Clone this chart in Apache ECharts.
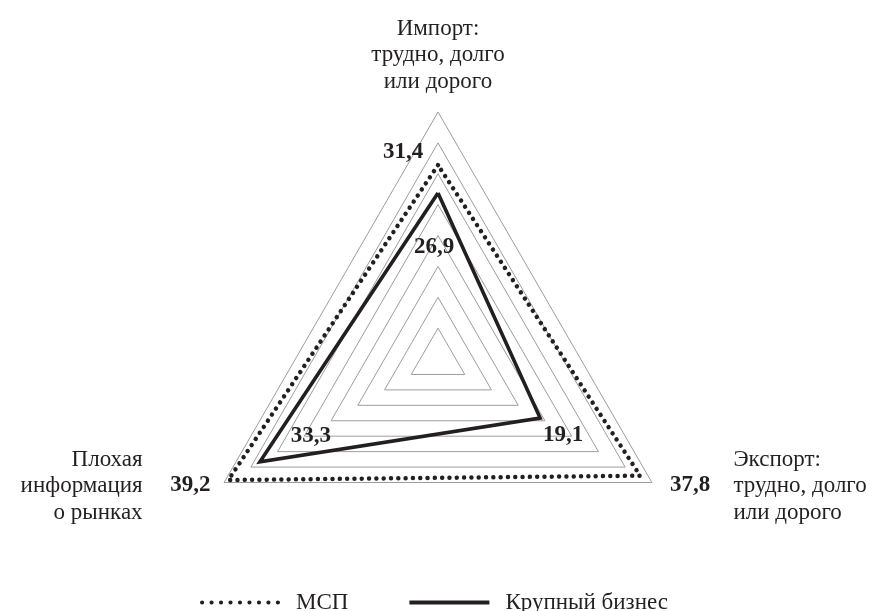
<!DOCTYPE html>
<html><head><meta charset="utf-8">
<script src="https://cdn.jsdelivr.net/npm/echarts@6/dist/echarts.min.js"></script>
<style>html,body{margin:0;padding:0;background:#fff}#c{width:874px;height:611px}</style>
</head><body><div id="c"></div>
<script>
// ---- data ----
const indicatorNames = ['Импорт:\nтрудно, долго\nили дорого', 'Плохая\nинформация\nо рынках', 'Экспорт:\nтрудно, долго\nили дорого'];
const seriesNames = ['МСП', 'Крупный бизнес'];
const smeValues = [31.4, 39.2, 37.8];
const largeValues = [26.9, 33.3, 19.1];
const axisMax = 40;
const axisSplits = 8;

// ---- styles ----
const INK = '#231f20';
const FONT = '"Liberation Serif", "Times New Roman", serif';
const labelOffsets = [
  [[-35, -13], [-38, 5], [50, 9]],    // МСП
  [[-4, 54], [51, -26], [23, 17]]     // Крупный бизнес
];
const allValues = [smeValues, largeValues];
const fmt = v => Number(v).toFixed(1).replace('.', ',');

const data = [
  { name: seriesNames[0], value: smeValues, symbol: 'none',
    itemStyle: { color: INK },
    lineStyle: { color: INK, width: 4.5, type: [0.01, 7.3], cap: 'round' } },
  { name: seriesNames[1], value: largeValues, symbol: 'none',
    itemStyle: { color: INK },
    lineStyle: { color: INK, width: 3.6, type: 'solid', join: 'miter' } }
];
allValues.forEach((vals, s) => {
  vals.forEach((v, d) => {
    data.push({
      name: 'lbl' + s + '_' + d, value: vals,
      symbol: 'circle', symbolSize: 1,
      itemStyle: { color: 'rgba(0,0,0,0)' },
      lineStyle: { width: 0, opacity: 0 },
      label: {
        show: true, position: 'inside', offset: labelOffsets[s][d],
        color: INK, fontFamily: FONT, fontWeight: 'bold', fontSize: 23,
        formatter: p => {
          const idx = p.dimensionIndex != null ? p.dimensionIndex : vals.indexOf(p.value);
          return idx === d ? fmt(vals[d]) : '';
        }
      }
    });
  });
});

const dotN = 9, dotR = 2.1, dotStep = 9.5;
let dotsPath = 'path://';
for (let i = 0; i < dotN; i++) {
  const cx = dotR + i * dotStep;
  dotsPath += `M${cx - dotR},${dotR}A${dotR},${dotR} 0 1,1 ${cx + dotR},${dotR}A${dotR},${dotR} 0 1,1 ${cx - dotR},${dotR}Z`;
}

const chart = echarts.init(document.getElementById('c'), null, { renderer: 'canvas' });
chart.setOption({
  animation: false,
  backgroundColor: '#fff',
  legend: {
    data: [{ name: seriesNames[0], icon: dotsPath }, { name: seriesNames[1], icon: 'rect' }],
    left: 195, top: 586,
    itemWidth: 80, itemHeight: 4.2, itemGap: 61,
    itemStyle: { borderWidth: 0, color: INK },
    textStyle: { color: INK, fontFamily: FONT, fontSize: 23, padding: [0, 0, 0, 11] },
    selectedMode: false
  },
  radar: {
    center: [438, 359], radius: 247, startAngle: 90, shape: 'polygon', splitNumber: axisSplits,
    indicator: indicatorNames.map(n => ({ name: n, min: 0, max: axisMax })),
    axisLine: { show: false },
    axisTick: { show: false },
    axisLabel: { show: false },
    splitArea: { show: false },
    splitLine: { lineStyle: { color: '#9d9d9d', width: 1 } },
    axisNameGap: 7.5,
    axisName: { color: INK, fontFamily: FONT, fontSize: 23, lineHeight: 26.5, padding: [0, 75, 9.5, 75] }
  },
  series: [{ type: 'radar', silent: true, data: data, emphasis: { disabled: true } }]
});
</script></body></html>
